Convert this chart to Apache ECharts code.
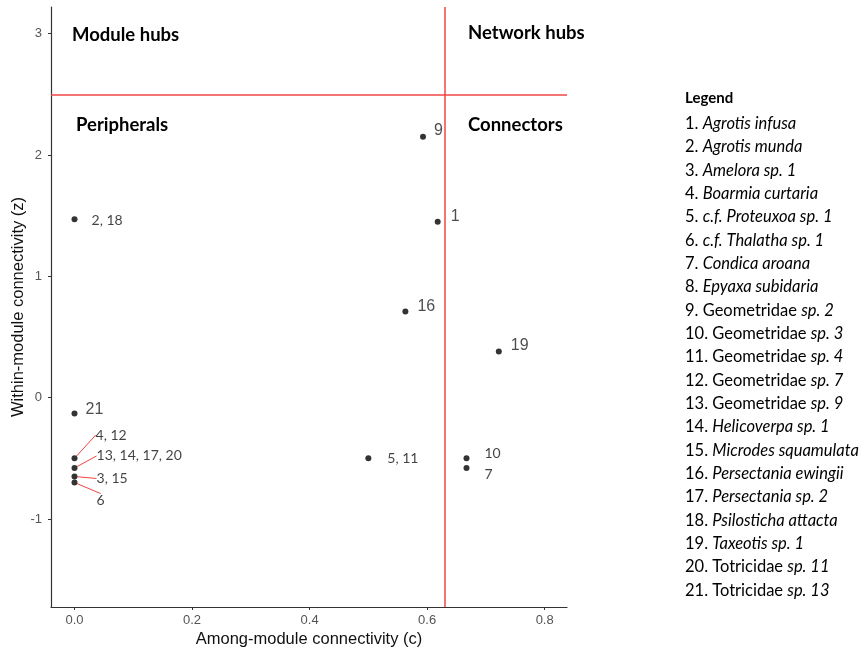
<!DOCTYPE html>
<html>
<head>
<meta charset="utf-8">
<script src="https://cdn.jsdelivr.net/npm/echarts@6/dist/echarts.min.js"></script>
<style>
  html, body { margin: 0; padding: 0; background: #fff; }
  #chart { width: 867px; height: 655px; }
</style>
</head>
<body>
<div id="chart"></div>
<script>
// Among-module connectivity (c) and within-module connectivity (z) per node group
const nodeLabels = ['9', '1', '16', '19', '21', '2, 18', '5, 11', '10', '7'];
const nodeC      = [0.593, 0.618, 0.563, 0.722, 0.0, 0.0, 0.5, 0.667, 0.667];
const nodeZ      = [2.15, 1.45, 0.71, 0.38, -0.13, 1.47, -0.50, -0.50, -0.58];

// Overlapping nodes at c = 0, labelled with leader lines
const stackLabels = ['4, 12', '13, 14, 17, 20', '3, 15', '6'];
const stackC      = [0.0, 0.0, 0.0, 0.0];
const stackZ      = [-0.50, -0.58, -0.65, -0.70];

// Role thresholds
const cThreshold = 0.625;
const zThreshold = 2.5;

// Axis ticks
const xTicks = [0, 0.2, 0.4, 0.6, 0.8];
const yTicks = [-1, 0, 1, 2, 3];

// Species key
const legendEntries = [
  ['', 'Agrotis infusa'],
  ['', 'Agrotis munda'],
  ['', 'Amelora sp. 1'],
  ['', 'Boarmia curtaria'],
  ['', 'c.f. Proteuxoa sp. 1'],
  ['', 'c.f. Thalatha sp. 1'],
  ['', 'Condica aroana'],
  ['', 'Epyaxa subidaria'],
  ['Geometridae ', 'sp. 2'],
  ['Geometridae ', 'sp. 3'],
  ['Geometridae ', 'sp. 4'],
  ['Geometridae ', 'sp. 7'],
  ['Geometridae ', 'sp. 9'],
  ['', 'Helicoverpa sp. 1'],
  ['', 'Microdes squamulata'],
  ['', 'Persectania ewingii'],
  ['', 'Persectania sp. 2'],
  ['', 'Psilosticha attacta'],
  ['', 'Taxeotis sp. 1'],
  ['Totricidae ', 'sp. 11'],
  ['Totricidae ', 'sp. 13']
];

// Label placement: [gap from point centre, vertical shift, plain R-style font?]
const nodeLabelPlacement = [
  [11, -6, true], [13, -5, true], [12, -5, true], [12, -5.5, true], [11, -4, true],
  [17, 1, false], [19, 0, false], [18, -5, false], [18, 7, false]
];
const stackLabelShift = [[13, -23], [14, -12], [14, 2], [14, 18]];

const SANS = 'Arial, "Liberation Sans", sans-serif';
const rFont = { fontFamily: SANS, fontSize: 16, color: '#222' };
const noteFont = { fontFamily: 'Lato', fontSize: 14, color: '#111' };

const nodeData = nodeC.map((c, i) => {
  const p = nodeLabelPlacement[i];
  const font = p[2] ? rFont : noteFont;
  return {
    value: [c, nodeZ[i]],
    name: nodeLabels[i],
    label: Object.assign({
      show: true, position: 'right', distance: p[0] - 3, offset: [0, p[1]],
      formatter: nodeLabels[i]
    }, font)
  };
});

const stackData = stackC.map((c, i) => ({
  value: [c, stackZ[i]],
  name: stackLabels[i]
}));

const chart = echarts.init(document.getElementById('chart'), null, { renderer: 'canvas' });

const legendGraphics = [{
  type: 'text', left: 685, top: 91,
  style: { text: 'Legend', font: 'bold 15px Lato', fill: '#000' }
}].concat(legendEntries.map((e, i) => ({
  type: 'text', left: 685, top: 115 + i * 23.35,
  style: {
    text: '{n|' + (i + 1) + '. ' + e[0] + '}{i|' + e[1] + '}',
    rich: {
      n: { fontFamily: 'Lato', fontSize: 16.5, fill: '#000', fontStyle: 'normal' },
      i: { fontFamily: 'Lato', fontSize: 16.5, fill: '#000', fontStyle: 'italic' }
    }
  }
})));

const roleTitles = [
  ['Module hubs', 72, 26],
  ['Network hubs', 468, 24],
  ['Peripherals', 76, 116],
  ['Connectors', 468, 116]
].map(t => ({
  type: 'text', left: t[1], top: t[2],
  style: { text: t[0], font: 'bold 18.5px Lato', fill: '#000' }
}));

const axisLine = { show: true, onZero: false, lineStyle: { color: '#333', width: 1.2 } };
const nameStyle = { fontFamily: SANS, fontSize: 16.5, color: '#111' };

chart.setOption({
  animation: false,
  backgroundColor: '#fff',
  grid: { left: 51, right: 300, top: 7, bottom: 48, containLabel: false, outerBoundsMode: 'none' },
  xAxis: {
    type: 'value',
    min: -0.04, max: 0.838,
    name: 'Among-module connectivity (c)',
    nameLocation: 'middle',
    nameGap: 24,
    nameMoveOverlap: false,
    nameTextStyle: nameStyle,
    axisLine: axisLine,
    splitLine: { show: false },
    axisTick: { show: true, length: 3, lineStyle: { color: '#333' }, customValues: xTicks },
    axisLabel: {
      customValues: xTicks, margin: 7,
      fontFamily: SANS, fontSize: 13, color: '#555',
      formatter: v => v.toFixed(1)
    }
  },
  yAxis: {
    type: 'value',
    min: -1.726, max: 3.22,
    name: 'Within-module connectivity (z)',
    nameLocation: 'middle',
    nameGap: 24,
    nameMoveOverlap: false,
    nameTextStyle: nameStyle,
    axisLine: axisLine,
    splitLine: { show: false },
    axisTick: { show: true, length: 3, lineStyle: { color: '#333' }, customValues: yTicks },
    axisLabel: {
      customValues: yTicks, margin: 9,
      fontFamily: SANS, fontSize: 13, color: '#555',
      formatter: v => String(v)
    }
  },
  graphic: legendGraphics.concat(roleTitles),
  series: [
    {
      type: 'scatter',
      symbolSize: 6,
      itemStyle: { color: '#000' },
      data: nodeData,
      markLine: {
        silent: true,
        symbol: 'none',
        label: { show: false },
        lineStyle: { color: '#f04444', width: 1.5, type: 'solid' },
        data: [{ xAxis: cThreshold }, { yAxis: zThreshold }]
      },
      z: 3
    },
    {
      type: 'scatter',
      symbolSize: 6,
      itemStyle: { color: '#000' },
      data: stackData,
      label: Object.assign({
        show: true, position: 'right', distance: 5,
        formatter: p => p.name
      }, noteFont),
      labelLayout: p => ({ dx: stackLabelShift[p.dataIndex][0], dy: stackLabelShift[p.dataIndex][1] }),
      labelLine: { show: true, length2: 0, lineStyle: { color: '#f04444', width: 1 } },
      z: 3
    }
  ]
});
</script>
</body>
</html>
